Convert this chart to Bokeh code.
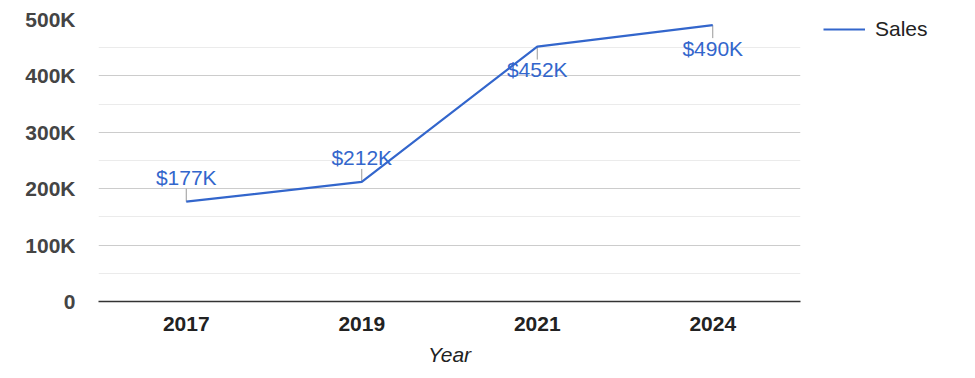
from bokeh.plotting import figure
from bokeh.models import FactorRange, Range1d, FixedTicker, Legend, LegendItem, ColumnDataSource
from bokeh.core.properties import value
from bokeh.embed import file_html
from bokeh.resources import INLINE
import math

# ---- data ----
years = ["2017", "2019", "2021", "2024"]
sales = [177000, 212000, 452000, 490000]
y_ticks = [0, 100000, 200000, 300000, 400000, 500000]
y_tick_labels = ["0", "100K", "200K", "300K", "400K", "500K"]
y_minor_ticks = [50000, 150000, 250000, 350000, 450000]
labels_above = [True, True, False, False]

ann_text = ["${}K".format(v // 1000) for v in sales]

FONT = "Liberation Sans"
BLUE = "#3366CC"

p = figure(
    x_range=FactorRange(factors=years, range_padding=0),
    y_range=Range1d(0, 500000),
    frame_width=702, frame_height=282,
    min_border_left=98, min_border_right=160, min_border_top=19, min_border_bottom=69,
    output_backend="svg", toolbar_location=None,
)
p.outline_line_color = None
p.background_fill_color = "white"
p.border_fill_color = "white"

# grid
p.xgrid.grid_line_color = None
p.yaxis.ticker = FixedTicker(ticks=y_ticks, minor_ticks=y_minor_ticks)
p.ygrid.grid_line_color = "#cccccc"
p.ygrid.grid_line_width = 1
p.ygrid.minor_grid_line_color = "#ebebeb"
p.ygrid.minor_grid_line_width = 1

# y axis
p.yaxis.axis_line_color = None
p.yaxis.major_tick_line_color = None
p.yaxis.minor_tick_line_color = None
p.yaxis.major_tick_out = 0
p.yaxis.minor_tick_out = 0
p.yaxis.major_label_overrides = {t: l for t, l in zip(y_ticks, y_tick_labels)}
p.yaxis.major_label_standoff = 23
p.yaxis.major_label_text_font = FONT
p.yaxis.major_label_text_font_size = "21px"
p.yaxis.major_label_text_font_style = "bold"
p.yaxis.major_label_text_color = "#444444"

# x axis
p.xaxis.axis_line_color = "#333333"
p.xaxis.axis_line_width = 1.5
p.xaxis.major_tick_line_color = None
p.xaxis.minor_tick_line_color = None
p.xaxis.major_tick_out = 0
p.xaxis.minor_tick_out = 0
p.xaxis.major_label_standoff = 15
p.xaxis.major_label_text_font = FONT
p.xaxis.major_label_text_font_size = "21px"
p.xaxis.major_label_text_font_style = "bold"
p.xaxis.major_label_text_color = "#222222"
p.xaxis.axis_label = "Year"
p.xaxis.axis_label_standoff = 9
p.xaxis.axis_label_text_font = FONT
p.xaxis.axis_label_text_font_size = "21px"
p.xaxis.axis_label_text_font_style = "italic"
p.xaxis.axis_label_text_color = "#222222"

src = ColumnDataSource(dict(
    x=years, y=sales, text=ann_text,
    angle=[math.pi / 2 if a else -math.pi / 2 for a in labels_above],
    yoff=[-24 if a else 23 for a in labels_above],
))

# annotation stems
p.ray(x="x", y="y", length=13, length_units="screen", angle="angle",
      line_color="#999999", line_width=1, source=src)

# line
r = p.line(x=years, y=sales, line_color=BLUE, line_width=2.2)

# annotation labels
p.text(x="x", y="y", text="text", y_offset="yoff", source=src,
       text_align="center", text_baseline="middle",
       text_font_size="21px", text_color=BLUE, text_font=value(FONT))

legend = Legend(
    items=[LegendItem(label="Sales", renderers=[r])],
    location=(23, 260),
    glyph_width=42, glyph_height=20, label_standoff=10,
    padding=0, margin=0, spacing=0,
    border_line_color=None, background_fill_alpha=0,
    label_text_font=FONT, label_text_font_size="21px", label_text_color="#222222",
    label_height=20,
)
p.add_layout(legend, "right")

open("out.html", "w").write(file_html(p, INLINE))
